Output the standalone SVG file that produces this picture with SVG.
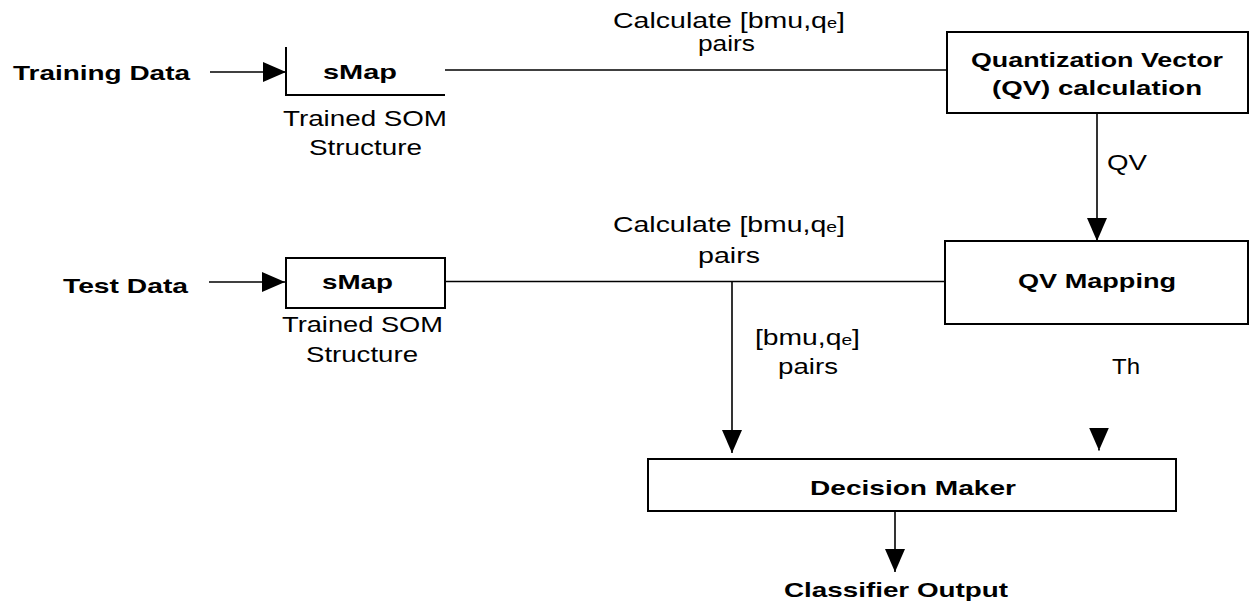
<svg xmlns="http://www.w3.org/2000/svg" width="1253" height="607" viewBox="0 0 1253 607">
  <style>
    .t { font-family: "Liberation Sans", Arial, sans-serif; fill: #000; }
    .b { font-weight: bold; font-size: 21px; }
    .r { font-size: 22px; }
    .box { fill: #fff; stroke: #000; stroke-width: 2; }
    .ln { fill: none; stroke: #000; stroke-width: 1.6; }
  </style>
  <defs>
    <marker id="head" markerUnits="userSpaceOnUse" markerWidth="24" markerHeight="22" refX="23" refY="10" orient="auto" viewBox="0 0 24 20">
      <path d="M0,0 L23,10 L0,20 z" fill="#000"/>
    </marker>
  </defs>

  <!-- connectors -->
  <g id="connectors">
    <path class="ln" d="M210,72 H286" marker-end="url(#head)"/>
    <path class="ln" d="M445,70 H946"/>
    <path class="ln" d="M1097,113 V241" marker-end="url(#head)"/>
    <path class="ln" d="M209,282 H285" marker-end="url(#head)"/>
    <path class="ln" d="M445,281.5 H945"/>
    <path class="ln" d="M732,281.5 V453" marker-end="url(#head)"/>
    <path class="ln" d="M1099,449 V450.5" marker-end="url(#head)"/>
    <path class="ln" d="M895,511 V572" marker-end="url(#head)"/>
  </g>

  <!-- input labels -->
  <g id="training-data">
    <text class="t b" x="13" y="80" font-size="22" textLength="177" lengthAdjust="spacingAndGlyphs">Training Data</text>
  </g>
  <g id="test-data">
    <text class="t b" x="63" y="293" font-size="22" textLength="125" lengthAdjust="spacingAndGlyphs">Test Data</text>
  </g>

  <!-- upper sMap (open frame: left and bottom edges) -->
  <g id="smap-train">
    <path d="M286,47 V95 H445" fill="none" stroke="#000" stroke-width="2"/>
    <text class="t b" x="323" y="79" textLength="74" lengthAdjust="spacingAndGlyphs">sMap</text>
    <text class="t r" x="283" y="126" font-size="23" textLength="164" lengthAdjust="spacingAndGlyphs">Trained SOM</text>
    <text class="t r" x="309" y="155" font-size="23" textLength="113" lengthAdjust="spacingAndGlyphs">Structure</text>
  </g>

  <!-- lower sMap -->
  <g id="smap-test">
    <rect class="box" x="286" y="258" width="159" height="50"/>
    <text class="t b" x="322" y="289" textLength="71" lengthAdjust="spacingAndGlyphs">sMap</text>
    <text class="t r" x="282" y="332" font-size="23" textLength="161" lengthAdjust="spacingAndGlyphs">Trained SOM</text>
    <text class="t r" x="306" y="362" font-size="23" textLength="112" lengthAdjust="spacingAndGlyphs">Structure</text>
  </g>

  <!-- edge labels -->
  <g id="label-calc-top">
    <text class="t r" x="613" y="28" font-size="20" textLength="232" lengthAdjust="spacingAndGlyphs">Calculate [bmu,q<tspan font-size="14">e</tspan>]</text>
    <text class="t r" x="698" y="51" font-size="20" textLength="57" lengthAdjust="spacingAndGlyphs">pairs</text>
  </g>
  <g id="label-calc-bottom">
    <text class="t r" x="613" y="232" font-size="21" textLength="232" lengthAdjust="spacingAndGlyphs">Calculate [bmu,q<tspan font-size="15">e</tspan>]</text>
    <text class="t r" x="698" y="263" font-size="21" textLength="62" lengthAdjust="spacingAndGlyphs">pairs</text>
  </g>
  <g id="label-pairs">
    <text class="t r" x="755" y="345" font-size="21" textLength="105" lengthAdjust="spacingAndGlyphs">[bmu,q<tspan font-size="15">e</tspan>]</text>
    <text class="t r" x="778" y="374" font-size="21" textLength="60" lengthAdjust="spacingAndGlyphs">pairs</text>
  </g>
  <g id="label-qv">
    <text class="t r" x="1107" y="170" font-size="23" textLength="40" lengthAdjust="spacingAndGlyphs">QV</text>
  </g>
  <g id="label-th">
    <text class="t r" x="1112" y="374" textLength="28" lengthAdjust="spacingAndGlyphs">Th</text>
  </g>

  <!-- processing blocks -->
  <g id="qv-calculation">
    <rect class="box" x="947" y="32" width="301" height="81"/>
    <text class="t b" x="971" y="67" font-size="19.5" textLength="252" lengthAdjust="spacingAndGlyphs">Quantization Vector</text>
    <text class="t b" x="992" y="95" font-size="19.5" textLength="210" lengthAdjust="spacingAndGlyphs">(QV) calculation</text>
  </g>
  <g id="qv-mapping">
    <rect class="box" x="945" y="241" width="303" height="83"/>
    <text class="t b" x="1018" y="288" textLength="158" lengthAdjust="spacingAndGlyphs">QV Mapping</text>
  </g>
  <g id="decision-maker">
    <rect class="box" x="648" y="459" width="528" height="52"/>
    <text class="t b" x="810" y="495" textLength="206" lengthAdjust="spacingAndGlyphs">Decision Maker</text>
  </g>
  <g id="classifier-output">
    <text class="t b" x="784" y="597" textLength="224" lengthAdjust="spacingAndGlyphs">Classifier Output</text>
  </g>
</svg>
